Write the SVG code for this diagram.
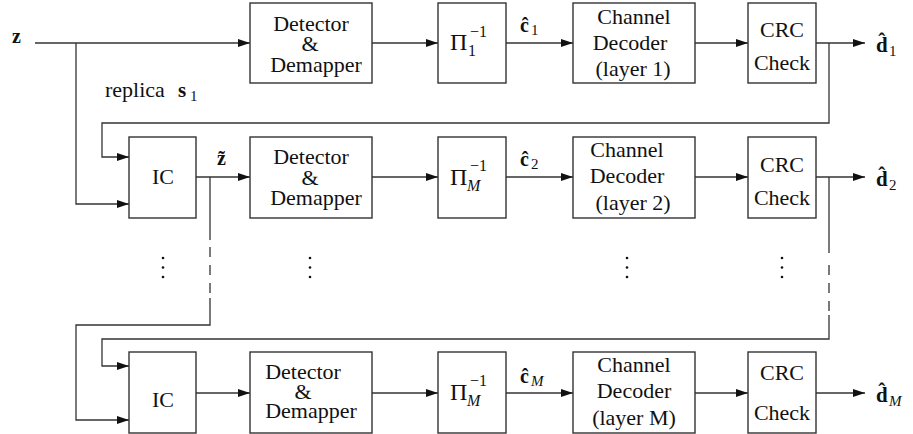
<svg xmlns="http://www.w3.org/2000/svg" width="913" height="434" viewBox="0 0 913 434" font-family="'Liberation Serif','DejaVu Serif',serif">
<defs>
<marker id="ah" markerWidth="13" markerHeight="9" refX="12" refY="4" orient="auto" markerUnits="userSpaceOnUse">
<path d="M0,0 L12,4 L0,8 z" fill="#111"/>
</marker>
<style>
.box{fill:#fff;stroke:#333;stroke-width:1.4}
.ln{fill:none;stroke:#333;stroke-width:1.3}
.ar{fill:none;stroke:#333;stroke-width:1.3;marker-end:url(#ah)}
.dash{fill:none;stroke:#333;stroke-width:1.3;stroke-dasharray:10 8}
.t{font-family:"Liberation Serif","DejaVu Serif",serif;font-size:22px;fill:#111;text-anchor:middle}
.m{font-family:"Liberation Serif","DejaVu Serif",serif;fill:#111}
.b{font-weight:bold}
.it{font-style:italic}
.dot{fill:#111}
</style>
</defs>
<rect width="913" height="434" fill="#fff"/>

<g id="connectors">
<!-- row 1 -->
<path class="ar" d="M35,43 H250"/>
<path class="ar" d="M76,43 V204 H129"/>
<path class="ar" d="M372,43 H438"/>
<path class="ar" d="M506,43 H573"/>
<path class="ar" d="M695,43 H748"/>
<path class="ar" d="M816,43 H865"/>
<path class="ar" d="M829,43 V123 H102 V157 H129"/>
<!-- row 2 -->
<path class="ar" d="M196,177 H250"/>
<path class="ar" d="M372,177 H438"/>
<path class="ar" d="M506,177 H573"/>
<path class="ar" d="M695,177 H748"/>
<path class="ar" d="M816,177 H865"/>
<path class="ln" d="M210,177 V240"/>
<path class="dash" d="M210,247 V296"/>
<path class="ar" d="M210,298 V325 H76 V420 H129"/>
<path class="ln" d="M829,177 V253"/>
<path class="dash" d="M829,265 V312"/>
<path class="ar" d="M829,315 V339 H102 V366 H129"/>
<!-- row 3 -->
<path class="ar" d="M196,393 H250"/>
<path class="ar" d="M372,393 H438"/>
<path class="ar" d="M506,393 H573"/>
<path class="ar" d="M695,393 H748"/>
<path class="ar" d="M816,393 H865"/>
</g>

<!-- Row 1 -->
<g id="det1"><rect class="box" x="250" y="3" width="122" height="80"/>
<text class="t" x="311" y="31">Detector</text><text class="t" x="310" y="51">&amp;</text><text class="t" x="316" y="72">Demapper</text></g>
<g id="pi1"><rect class="box" x="438" y="3" width="68" height="80"/>
<text class="m" x="450" y="50" font-size="24">Π</text><text class="m" x="470" y="37" font-size="16">−1</text><text class="m" x="468" y="56" font-size="16">1</text></g>
<g id="dec1"><rect class="box" x="573" y="3" width="122" height="80"/>
<text class="t" x="634" y="24">Channel</text><text class="t" x="630" y="50">Decoder</text><text class="t" x="633" y="76">(layer 1)</text></g>
<g id="crc1"><rect class="box" x="748" y="3" width="68" height="80"/>
<text class="t" x="782" y="37">CRC</text><text class="t" x="782" y="70">Check</text></g>

<!-- Row 2 -->
<g id="ic2"><rect class="box" x="129" y="137" width="67" height="81"/>
<text class="t" x="163" y="184">IC</text></g>
<g id="det2"><rect class="box" x="250" y="137" width="122" height="81"/>
<text class="t" x="311" y="164">Detector</text><text class="t" x="310" y="185">&amp;</text><text class="t" x="316" y="205">Demapper</text></g>
<g id="pi2"><rect class="box" x="438" y="137" width="68" height="81"/>
<text class="m" x="450" y="185" font-size="24">Π</text><text class="m" x="470" y="171" font-size="16">−1</text><text class="m it" x="467" y="191" font-size="16">M</text></g>
<g id="dec2"><rect class="box" x="573" y="137" width="122" height="81"/>
<text class="t" x="627" y="157">Channel</text><text class="t" x="627" y="183">Decoder</text><text class="t" x="633" y="210">(layer 2)</text></g>
<g id="crc2"><rect class="box" x="748" y="137" width="68" height="81"/>
<text class="t" x="782" y="172">CRC</text><text class="t" x="782" y="205">Check</text></g>

<!-- Row 3 -->
<g id="ic3"><rect class="box" x="129" y="352" width="67" height="81"/>
<text class="t" x="163" y="407">IC</text></g>
<g id="det3"><rect class="box" x="250" y="352" width="122" height="81"/>
<text class="t" x="303" y="379">Detector</text><text class="t" x="303" y="399">&amp;</text><text class="t" x="311" y="418">Demapper</text></g>
<g id="pi3"><rect class="box" x="438" y="352" width="68" height="81"/>
<text class="m" x="450" y="400" font-size="24">Π</text><text class="m" x="470" y="386" font-size="16">−1</text><text class="m it" x="467" y="406" font-size="16">M</text></g>
<g id="dec3"><rect class="box" x="573" y="352" width="122" height="81"/>
<text class="t" x="634" y="372">Channel</text><text class="t" x="634" y="398">Decoder</text><text class="t" x="634" y="425">(layer M)</text></g>
<g id="crc3"><rect class="box" x="748" y="352" width="68" height="81"/>
<text class="t" x="782" y="380">CRC</text><text class="t" x="782" y="420">Check</text></g>

<!-- labels -->
<g id="labels">
<text class="m b" x="12" y="43" font-size="20">z</text>
<text class="m" x="105" y="97" font-size="22">replica</text>
<text class="m b" x="178" y="97" font-size="21">s</text><text class="m" x="190" y="101" font-size="15">1</text>
<text class="m b" x="217" y="165" font-size="20">z̃</text>
<text class="m b" x="520" y="32" font-size="20">ĉ</text><text class="m" x="531" y="35" font-size="15">1</text>
<text class="m b" x="520" y="166" font-size="20">ĉ</text><text class="m" x="531" y="169" font-size="15">2</text>
<text class="m b" x="520" y="383" font-size="20">ĉ</text><text class="m it" x="531" y="386" font-size="15">M</text>
<text class="m b" x="876" y="52" font-size="21">d̂</text><text class="m" x="889" y="56" font-size="15">1</text>
<text class="m b" x="876" y="186" font-size="21">d̂</text><text class="m" x="889" y="190" font-size="15">2</text>
<text class="m b" x="876" y="402" font-size="21">d̂</text><text class="m it" x="889" y="406" font-size="15">M</text>
</g>

<g id="ellipses">
<circle class="dot" cx="163" cy="258" r="1.3"/><circle class="dot" cx="163" cy="267.5" r="1.3"/><circle class="dot" cx="163" cy="277" r="1.3"/>
<circle class="dot" cx="310" cy="258" r="1.3"/><circle class="dot" cx="310" cy="267.5" r="1.3"/><circle class="dot" cx="310" cy="277" r="1.3"/>
<circle class="dot" cx="627" cy="258" r="1.3"/><circle class="dot" cx="627" cy="267.5" r="1.3"/><circle class="dot" cx="627" cy="277" r="1.3"/>
<circle class="dot" cx="782" cy="258" r="1.3"/><circle class="dot" cx="782" cy="267.5" r="1.3"/><circle class="dot" cx="782" cy="277" r="1.3"/>
</g>
</svg>
